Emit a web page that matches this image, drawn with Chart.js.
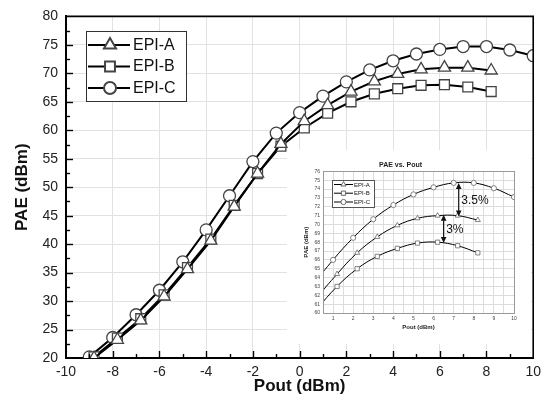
<!DOCTYPE html>
<html><head><meta charset="utf-8">
<script src="https://cdn.jsdelivr.net/npm/chart.js@4"></script>
<style>
html,body{margin:0;padding:0;background:#fff;}
#wrap{position:relative;width:547px;height:401px;overflow:hidden;}
#main{position:absolute;left:0;top:0;}
#inset{position:absolute;left:287px;top:150px;background:#fff;}
</style></head><body>
<div id="wrap">
<canvas id="main" width="547" height="401"></canvas>
<canvas id="inset" width="245" height="194"></canvas>
</div>
<script>
// ---- data ----
const seriesNames = ['EPI-A', 'EPI-B', 'EPI-C'];
const poutAB = [-8.8, -7.8, -6.8, -5.8, -4.8, -3.8, -2.8, -1.8, -0.8, 0.2, 1.2, 2.2, 3.2, 4.2, 5.2, 6.2, 7.2, 8.2];
const paeA   = [20.0, 23.2, 26.6, 30.8, 35.6, 40.6, 46.6, 52.4, 57.6, 61.6, 64.4, 66.8, 68.6, 69.9, 70.7, 71.0, 71.0, 70.5];
const paeB   = [20.2, 23.5, 26.9, 31.1, 35.9, 40.9, 46.8, 52.4, 57.2, 60.4, 63.0, 65.0, 66.4, 67.3, 67.9, 68.0, 67.6, 66.8];
const poutC  = [-9, -8, -7, -6, -5, -4, -3, -2, -1, 0, 1, 2, 3, 4, 5, 6, 7, 8, 9, 10];
const paeC   = [20.2, 23.6, 27.6, 31.9, 36.9, 42.5, 48.5, 54.5, 59.5, 63.1, 66.0, 68.5, 70.6, 72.2, 73.4, 74.2, 74.7, 74.7, 74.1, 73.1];
const mainXRange = [-10, 10], mainXStep = 2;
const mainYRange = [20, 80], mainYStep = 5;
const insetTitle = 'PAE vs. Pout';
const insetXRange = [0.5, 10];
const insetYRange = [60, 76];
const xTitle = 'Pout (dBm)';
const yTitle = 'PAE (dBm)';
// inset annotations (difference arrows)
const arrowX      = [7.25, 6.5];
const arrowTop    = [74.7, 71.1];
const arrowBottom = [70.9, 67.9];
const arrowLabels = ['3.5%', '3%'];

const FONT = '"Liberation Sans", Arial, sans-serif';
Chart.defaults.font.family = FONT;
const styles = [
  {pointStyle: 'triangle', r: 7, ri: 3},
  {pointStyle: 'rect', r: 7, ri: 3},
  {pointStyle: 'circle', r: 6, ri: 2.6}
];
const xs = [poutAB, poutAB, poutC];
const ys = [paeA, paeB, paeC];

function makeDatasets(inset) {
  return seriesNames.map((name, i) => ({
    label: name,
    data: xs[i].map((x, k) => ({x: x, y: ys[i][k]})),
    borderColor: '#000',
    borderWidth: inset ? 1 : 2,
    tension: inset ? 0.4 : 0,
    pointStyle: styles[i].pointStyle,
    pointRadius: inset ? styles[i].ri : styles[i].r,
    pointBorderColor: inset ? '#666' : '#444',
    pointBorderWidth: inset ? 0.8 : 1.3,
    pointBackgroundColor: '#fff',
    clip: 0
  }));
}

function drawLegend(ctx, chart, box, rowY, lineX, markX, textX, fontSize, inset) {
  ctx.save();
  ctx.fillStyle = '#fff';
  ctx.strokeStyle = inset ? '#555' : '#333';
  ctx.lineWidth = 1;
  ctx.fillRect(box[0], box[1], box[2] - box[0], box[3] - box[1]);
  ctx.strokeRect(box[0] + 0.5, box[1] + 0.5, box[2] - box[0], box[3] - box[1]);
  chart.data.datasets.forEach((ds, i) => {
    const yy = rowY[i];
    ctx.strokeStyle = '#000';
    ctx.lineWidth = inset ? 1 : 2;
    ctx.beginPath(); ctx.moveTo(lineX[0], yy); ctx.lineTo(lineX[1], yy); ctx.stroke();
    ctx.fillStyle = '#fff';
    ctx.strokeStyle = ds.pointBorderColor;
    Chart.helpers.drawPoint(ctx, {pointStyle: ds.pointStyle, radius: ds.pointRadius, rotation: 0, borderWidth: ds.pointBorderWidth}, markX, yy);
    ctx.fillStyle = '#111';
    ctx.font = fontSize + 'px ' + FONT;
    ctx.textBaseline = 'middle';
    ctx.textAlign = 'left';
    ctx.fillText(ds.label, textX, yy + 0.5);
  });
  ctx.restore();
}

const mainDecor = {
  id: 'mainDecor',
  afterDraw(chart) {
    const {ctx, chartArea: a, scales: {x, y}} = chart;
    ctx.save();
    ctx.strokeStyle = '#000';
    ctx.lineWidth = 1.6;
    ctx.beginPath(); ctx.moveTo(a.left, a.top); ctx.lineTo(a.right, a.top); ctx.lineTo(a.right, a.bottom); ctx.stroke();
    ctx.lineWidth = 1.4;
    for (let v = mainXRange[0] + 1; v < mainXRange[1]; v += 1) {
      const px = Math.round(x.getPixelForValue(v)) + 0.5;
      const len = (v % mainXStep === 0) ? 7 : 4;
      ctx.beginPath(); ctx.moveTo(px, a.bottom); ctx.lineTo(px, a.bottom - len); ctx.stroke();
    }
    for (let v = mainYRange[0] + mainYStep / 2; v < mainYRange[1]; v += mainYStep / 2) {
      const py = Math.round(y.getPixelForValue(v)) + 0.5;
      const len = (v % mainYStep === 0) ? 7 : 4;
      ctx.beginPath(); ctx.moveTo(a.left, py); ctx.lineTo(a.left + len, py); ctx.stroke();
    }
    ctx.restore();
    drawLegend(ctx, chart, [86, 31, 186, 101], [45, 66.5, 88], [88, 130], 110, 133, 16, false);
  }
};

const mainChart = new Chart(document.getElementById('main'), {
  type: 'line',
  data: {datasets: makeDatasets(false)},
  options: {
    responsive: false, devicePixelRatio: 1, animation: false,
    layout: {padding: {left: 0, top: 13, right: 11, bottom: 0}},
    plugins: {legend: {display: false}, tooltip: {enabled: false}},
    scales: {
      x: {
        type: 'linear', min: mainXRange[0], max: mainXRange[1],
        ticks: {stepSize: mainXStep, font: {size: 14}, color: '#222', padding: 6, maxRotation: 0},
        grid: {color: '#e2e2e2', drawTicks: false},
        border: {color: '#000', width: 2},
        title: {display: true, text: xTitle, font: {size: 17, weight: 'bold'}, color: '#111', padding: {top: 0, bottom: 4}},
        afterFit: s => { s.height = 43; }
      },
      y: {
        type: 'linear', min: mainYRange[0], max: mainYRange[1],
        ticks: {stepSize: mainYStep, font: {size: 14}, color: '#222', padding: 8},
        grid: {color: '#e2e2e2', drawTicks: false},
        border: {color: '#000', width: 2},
        title: {display: true, text: yTitle, font: {size: 17, weight: 'bold'}, color: '#111', padding: {top: 12, bottom: 0}},
        afterFit: s => { s.width = 66; }
      }
    }
  },
  plugins: [mainDecor]
});

// size the inset panel so it stops just inside the main frame
const insetCanvas = document.getElementById('inset');
const insetLeft = 287;
const insetW = Math.floor(mainChart.chartArea.right - 2) - insetLeft;
insetCanvas.width = insetW;
const insetPlotRight = 514;

function arrowHead(ctx, x, y, dir) {
  ctx.beginPath();
  ctx.moveTo(x, y);
  ctx.lineTo(x - 2.8, y - dir * 6);
  ctx.lineTo(x + 2.8, y - dir * 6);
  ctx.closePath();
  ctx.fill();
}

const insetDecor = {
  id: 'insetDecor',
  afterDraw(chart) {
    const {ctx, chartArea: a, scales: {x, y}} = chart;
    ctx.save();
    ctx.strokeStyle = '#999';
    ctx.lineWidth = 1;
    ctx.strokeRect(Math.round(a.left) + 0.5, Math.round(a.top) + 0.5, Math.round(a.right - a.left), Math.round(a.bottom - a.top));
    ctx.strokeStyle = '#111'; ctx.fillStyle = '#111'; ctx.lineWidth = 1.2;
    arrowX.forEach((ax, i) => {
      const px = x.getPixelForValue(ax);
      const t = y.getPixelForValue(arrowTop[i]);
      const b = y.getPixelForValue(arrowBottom[i]);
      ctx.beginPath(); ctx.moveTo(px, t + 4); ctx.lineTo(px, b - 4); ctx.stroke();
      arrowHead(ctx, px, t, -1);
      arrowHead(ctx, px, b, 1);
      ctx.font = '12px ' + FONT;
      ctx.textAlign = 'left'; ctx.textBaseline = 'middle';
      ctx.fillText(arrowLabels[i], px + 2.5, (t + b) / 2 + 1);
    });
    ctx.restore();
    drawLegend(ctx, chart, [45, 30, 87, 57], [34.5, 43.2, 52], [47, 66], 56.5, 67, 6, true);
  }
};

new Chart(insetCanvas, {
  type: 'line',
  data: {datasets: makeDatasets(true)},
  options: {
    responsive: false, devicePixelRatio: 1, animation: false,
    layout: {padding: {left: 0, top: 0, right: insetLeft + insetW - insetPlotRight, bottom: 0}},
    plugins: {
      legend: {display: false}, tooltip: {enabled: false},
      title: {display: true, text: insetTitle, font: {size: 7, weight: 'bold'}, color: '#222', padding: {top: 11, bottom: 2}}
    },
    scales: {
      x: {
        type: 'linear', min: insetXRange[0], max: insetXRange[1],
        ticks: {stepSize: 0.5, font: {size: 5}, color: '#444', padding: 3, maxRotation: 0, autoSkip: false,
                callback: v => (Number.isInteger(v) ? String(v) : '')},
        grid: {color: '#dcdcdc', drawTicks: false},
        border: {color: '#999', width: 1},
        title: {display: true, text: xTitle, font: {size: 6, weight: 'bold'}, color: '#222', padding: {top: 0, bottom: 13.5}},
        afterFit: s => { s.height = 31; }
      },
      y: {
        type: 'linear', min: insetYRange[0], max: insetYRange[1],
        ticks: {stepSize: 1, font: {size: 5}, color: '#444', padding: 3, autoSkip: false},
        grid: {color: '#dcdcdc', drawTicks: false},
        border: {color: '#999', width: 1},
        title: {display: true, text: yTitle, font: {size: 6, weight: 'bold'}, color: '#222', padding: {top: 15.5, bottom: 0}},
        afterFit: s => { s.width = 36; }
      }
    }
  },
  plugins: [insetDecor]
});
</script>
</body></html>
